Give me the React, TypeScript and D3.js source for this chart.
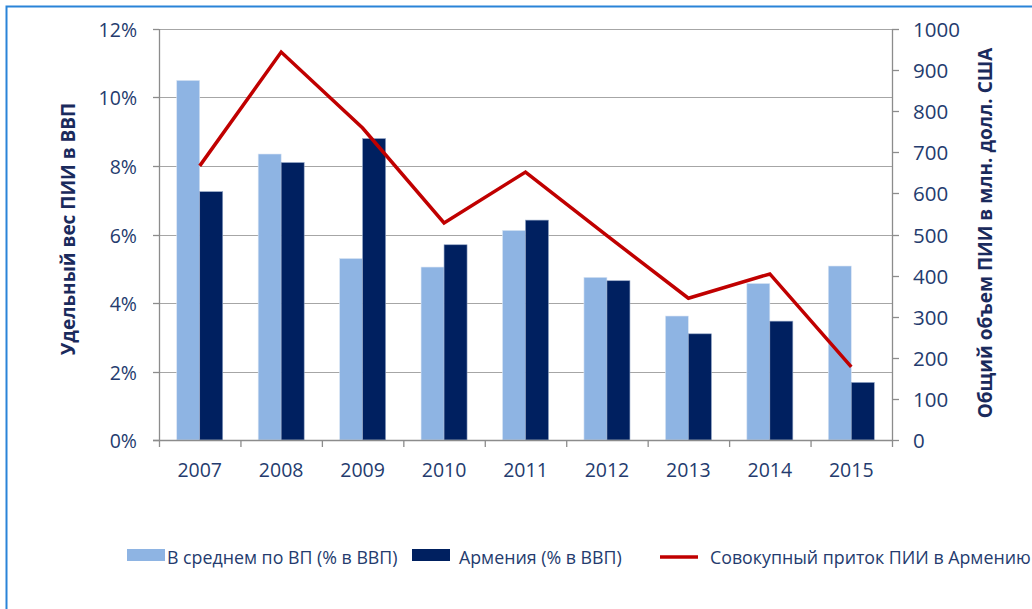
import React, { useEffect, useRef } from "react";
import * as d3 from "d3";

const years = ["2007", "2008", "2009", "2010", "2011", "2012", "2013", "2014", "2015"];
const avgShare = [10.5, 8.35, 5.3, 5.05, 6.12, 4.75, 3.62, 4.57, 5.08];
const armeniaShare = [7.25, 8.1, 8.8, 5.7, 6.42, 4.65, 3.1, 3.47, 1.68];
const inflow = [667, 944, 759, 528, 652, 497, 345, 404, 178];
const leftTicks = [0, 2, 4, 6, 8, 10, 12];
const rightTicks = [0, 100, 200, 300, 400, 500, 600, 700, 800, 900, 1000];

const colorLight = "#8eb4e3",
  colorDark = "#002060",
  colorLine = "#c00000",
  textColor = "#243b6e";
const font = "'Open Sans', sans-serif";

export default function App() {
  const ref = useRef<SVGSVGElement>(null);

  useEffect(() => {
    const svg = d3.select(ref.current);
    svg.selectAll("*").remove();

    const left = 159, right = 892, top = 29, bottom = 440;

    const x = d3.scaleBand().domain(years).range([left, right]);
    const yL = d3.scaleLinear().domain([0, 12]).range([bottom, top]);
    const yR = d3.scaleLinear().domain([0, 1000]).range([bottom, top]);
    const barW = 23;

    // frame
    svg.append("rect")
      .attr("x", 6.5).attr("y", 6.5)
      .attr("width", 1040).attr("height", 620)
      .attr("fill", "white")
      .attr("stroke", "#2a84d8")
      .attr("stroke-width", 2);

    // grid
    svg.append("g").selectAll("line")
      .data(leftTicks.filter(d => d > 0))
      .enter().append("line")
      .attr("x1", left).attr("x2", right)
      .attr("y1", d => Math.round(yL(d)) + 0.5)
      .attr("y2", d => Math.round(yL(d)) + 0.5)
      .attr("stroke", "#a6a6a6").attr("stroke-width", 1.2);

    // bars
    const g = svg.append("g");
    years.forEach((yr, i) => {
      const c = x(yr)! + x.bandwidth() / 2;
      g.append("rect")
        .attr("x", c - barW).attr("y", yL(avgShare[i]))
        .attr("width", barW).attr("height", bottom - yL(avgShare[i]))
        .attr("fill", colorLight).attr("stroke", "#dbe6f4").attr("stroke-width", 0.6);
      g.append("rect")
        .attr("x", c).attr("y", yL(armeniaShare[i]))
        .attr("width", barW).attr("height", bottom - yL(armeniaShare[i]))
        .attr("fill", colorDark).attr("stroke", "#8fa3c4").attr("stroke-width", 0.6);
    });

    // axes
    const axisColor = "#8c8c8c";
    const ax = svg.append("g");
    ax.append("line").attr("x1", left - 6).attr("x2", right).attr("y1", bottom + 0.5).attr("y2", bottom + 0.5)
      .attr("stroke", axisColor).attr("stroke-width", 1.3);
    ax.append("line").attr("x1", left + 0.5).attr("x2", left + 0.5).attr("y1", top).attr("y2", bottom + 7)
      .attr("stroke", axisColor).attr("stroke-width", 1.3);
    ax.append("line").attr("x1", right + 0.5).attr("x2", right + 0.5).attr("y1", top).attr("y2", bottom + 7)
      .attr("stroke", axisColor).attr("stroke-width", 1.3);

    leftTicks.forEach(t => {
      const y = Math.round(yL(t)) + 0.5;
      ax.append("line").attr("x1", left - 6).attr("x2", left).attr("y1", y).attr("y2", y)
        .attr("stroke", axisColor).attr("stroke-width", 1.3);
      ax.append("text").attr("x", 137).attr("y", y + 7)
        .attr("text-anchor", "end").attr("font-size", 19.5).attr("fill", textColor)
        .attr("font-family", font).text(t + "%");
    });
    rightTicks.forEach(t => {
      const y = Math.round(yR(t)) + 0.5;
      ax.append("line").attr("x1", right).attr("x2", right + 7).attr("y1", y).attr("y2", y)
        .attr("stroke", axisColor).attr("stroke-width", 1.3);
      ax.append("text").attr("x", 913).attr("y", y + 7)
        .attr("font-size", 20.5).attr("fill", textColor)
        .attr("font-family", font).text(t);
    });
    years.forEach((yr, i) => {
      const xt = x(yr)!;
      if (i > 0) {
        ax.append("line").attr("x1", xt + 0.5).attr("x2", xt + 0.5).attr("y1", bottom).attr("y2", bottom + 7)
          .attr("stroke", axisColor).attr("stroke-width", 1.3);
      }
      ax.append("text").attr("x", xt + x.bandwidth() / 2).attr("y", 477)
        .attr("text-anchor", "middle").attr("font-size", 19.5).attr("fill", textColor)
        .attr("font-family", font).text(yr);
    });

    // line
    const line = d3.line<number>()
      .x((d, i) => x(years[i])! + x.bandwidth() / 2)
      .y(d => yR(d));
    svg.append("path").datum(inflow)
      .attr("d", line)
      .attr("fill", "none").attr("stroke", colorLine).attr("stroke-width", 3.5)
      .attr("stroke-linejoin", "miter");

    // axis titles
    svg.append("text")
      .attr("transform", "translate(75,229) rotate(-90)")
      .attr("text-anchor", "middle").attr("font-size", 19).attr("font-weight", "bold")
      .attr("fill", "#1a2a5c").attr("font-family", font)
      .text("Удельный вес ПИИ в ВВП");
    svg.append("text")
      .attr("transform", "translate(992,233) rotate(-90)")
      .attr("text-anchor", "middle").attr("font-size", 19).attr("font-weight", "bold")
      .attr("fill", "#1a2a5c").attr("font-family", font)
      .text("Общий объем ПИИ в млн. долл. США");

    // legend
    const lg = svg.append("g").attr("font-family", font).attr("font-size", 17.8).attr("fill", textColor);
    lg.append("rect").attr("x", 127).attr("y", 549).attr("width", 38).attr("height", 12).attr("fill", colorLight);
    lg.append("text").attr("x", 167).attr("y", 564).text("В среднем по ВП (% в ВВП)");
    lg.append("rect").attr("x", 412).attr("y", 549).attr("width", 38).attr("height", 12).attr("fill", colorDark);
    lg.append("text").attr("x", 459).attr("y", 564).text("Армения (% в ВВП)");
    lg.append("line").attr("x1", 660).attr("x2", 698).attr("y1", 557).attr("y2", 557)
      .attr("stroke", colorLine).attr("stroke-width", 3.5);
    lg.append("text").attr("x", 710).attr("y", 564).text("Совокупный приток ПИИ в Армению");
  }, []);

  return (
    <svg ref={ref} width={1032} height={609}
      style={{ position: "absolute", left: 0, top: 0, display: "block" }} />
  );
}
